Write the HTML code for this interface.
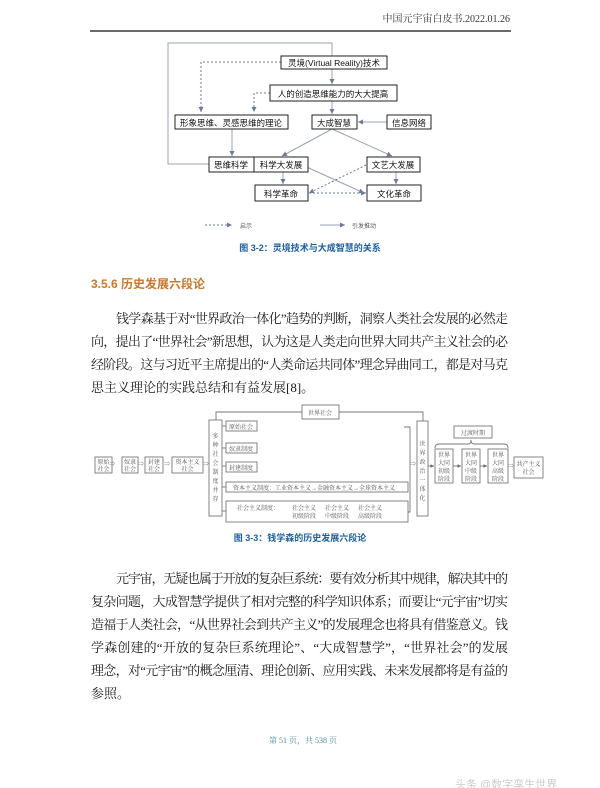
<!DOCTYPE html>
<html><head><meta charset="utf-8"><style>
html,body{margin:0;padding:0;background:#fff;width:600px;height:788px;overflow:hidden}
svg{display:block}
.s{font-family:"Liberation Sans","Noto Sans CJK SC",sans-serif}
.r{font-family:"Liberation Serif","Noto Serif CJK SC",serif}
</style></head><body>
<svg width="600" height="788" viewBox="0 0 600 788" xmlns="http://www.w3.org/2000/svg">
<defs>
<marker id="a" markerWidth="6" markerHeight="6" refX="5" refY="3" orient="auto"><path d="M0,0.5 L5,3 L0,5.5z" fill="#6a7a9a"/></marker>
<marker id="g" markerWidth="5" markerHeight="5" refX="4" refY="2.5" orient="auto"><path d="M0,0.5 L4,2.5 L0,4.5z" fill="#666"/></marker>
</defs>
<!-- header -->
<text x="510" y="22" text-anchor="end" class="r" font-size="10" fill="#333">中国元宇宙白皮书.2022.01.26</text>
<line x1="90" y1="31" x2="511" y2="31" stroke="#111" stroke-width="1.2"/>

<!-- diagram 1 -->
<g fill="none" stroke="#9aa3b5" stroke-width="1">
<polyline points="332,56 332,43 168,43 168,164 209,164"/>
<line x1="332" y1="69" x2="332" y2="84" marker-end="url(#a)"/>
<line x1="332" y1="101" x2="332" y2="114" marker-end="url(#a)"/>
<line x1="387" y1="122" x2="358" y2="122" marker-end="url(#a)"/>
<line x1="232" y1="129" x2="232" y2="156" marker-end="url(#a)"/>
<line x1="332" y1="129" x2="282" y2="156" marker-end="url(#a)"/>
<line x1="332" y1="129" x2="392" y2="156" marker-end="url(#a)"/>
<line x1="283" y1="172" x2="283" y2="184" marker-end="url(#a)"/>
<line x1="396" y1="172" x2="396" y2="184" marker-end="url(#a)"/>
<line x1="300" y1="164" x2="364" y2="193" marker-end="url(#a)"/>
<line x1="320" y1="225" x2="345" y2="225" marker-end="url(#a)"/>
</g>
<g fill="none" stroke="#6a7a9a" stroke-width="1" stroke-dasharray="2,2">
<polyline points="281,62 201,62 201,112" marker-end="url(#a)"/>
<polyline points="270,93 254,93 254,112" marker-end="url(#a)"/>
<line x1="366" y1="165" x2="309" y2="193" marker-end="url(#a)"/>
<line x1="309" y1="193" x2="366" y2="193" marker-end="url(#a)"/>
<line x1="205" y1="225" x2="232" y2="225" marker-end="url(#a)"/>
</g>
<g fill="#fff" stroke="#222" stroke-width="1">
<rect x="281" y="56" width="106" height="13"/>
<rect x="270" y="85" width="127" height="16"/>
<rect x="175" y="115" width="113" height="14"/>
<rect x="312" y="115" width="45" height="14"/>
<rect x="387" y="115" width="44" height="14"/>
<rect x="209" y="157" width="45" height="15"/>
<rect x="254" y="157" width="54" height="15"/>
<rect x="367" y="157" width="53" height="15"/>
<rect x="255" y="185" width="53" height="16"/>
<rect x="367" y="185" width="54" height="16"/>
</g>
<g class="s" font-size="8.5" fill="#111" text-anchor="middle">
<text x="334" y="66">灵境(Virtual Reality)技术</text>
<text x="333" y="97">人的创造思维能力的大大提高</text>
<text x="231" y="126">形象思维、灵感思维的理论</text>
<text x="334" y="126">大成智慧</text>
<text x="409" y="126">信息网络</text>
<text x="231" y="168">思维科学</text>
<text x="281" y="168">科学大发展</text>
<text x="393" y="168">文艺大发展</text>
<text x="281" y="197">科学革命</text>
<text x="394" y="197">文化革命</text>
</g>
<text x="240" y="228" class="s" font-size="6" fill="#555">启示</text>
<text x="352" y="228" class="s" font-size="6" fill="#555">引发推动</text>
<text x="310" y="251" class="s" font-size="9" font-weight="bold" fill="#1d5fa0" text-anchor="middle">图 3-2：灵境技术与大成智慧的关系</text>

<!-- heading -->
<text x="91" y="288" class="s" font-size="12" font-weight="bold" fill="#c9782a">3.5.6 历史发展六段论</text>

<!-- paragraph 1 -->
<g class="r" font-size="13" fill="#1a1a1a">
<text x="116" y="323" textLength="392" lengthAdjust="spacing">钱学森基于对“世界政治一体化”趋势的判断，洞察人类社会发展的必然走</text>
<text x="91" y="346" textLength="417" lengthAdjust="spacing">向，提出了“世界社会”新思想，认为这是人类走向世界大同共产主义社会的必</text>
<text x="91" y="369" textLength="417" lengthAdjust="spacing">经阶段。这与习近平主席提出的“人类命运共同体”理念异曲同工，都是对马克</text>
<text x="91" y="392">思主义理论的实践总结和有益发展[8]。</text>
</g>

<!-- diagram 2 -->
<g fill="none" stroke="#777" stroke-width="0.9">
<polyline points="216,420 216,412 423,412 423,421"/>
<polyline points="404,427 410,427 410,512 404,512"/>
<path d="M435,448 q0,-4 4,-4 h29 q3,0 3,-4 q0,4 3,4 h30 q4,0 4,4"/>
<line x1="222" y1="426" x2="226" y2="426"/><line x1="222" y1="448" x2="226" y2="448"/>
<line x1="222" y1="466" x2="226" y2="466"/><line x1="222" y1="487" x2="226" y2="487"/>
<line x1="222" y1="511" x2="226" y2="511"/>
<line x1="428" y1="466" x2="434" y2="466" marker-end="url(#g)"/>
<line x1="453" y1="466" x2="461" y2="466" marker-end="url(#g)"/>
<line x1="480" y1="466" x2="487" y2="466" marker-end="url(#g)"/>
</g>
<g fill="#fff" stroke="#777" stroke-width="0.9">
<rect x="302" y="405" width="37" height="14"/>
<rect x="209" y="420" width="13" height="96"/>
<rect x="226" y="421" width="31" height="10"/>
<rect x="226" y="443" width="31" height="10"/>
<rect x="226" y="462" width="31" height="10"/>
<rect x="226" y="482" width="182" height="10"/>
<rect x="226" y="501" width="182" height="21"/>
<rect x="417" y="421" width="11" height="95"/>
<rect x="95" y="457" width="17" height="16"/>
<rect x="122" y="457" width="16" height="16"/>
<rect x="145" y="457" width="18" height="16"/>
<rect x="172" y="457" width="31" height="16"/>
<rect x="454" y="426" width="38" height="12"/>
<rect x="435" y="449" width="18" height="34"/>
<rect x="462" y="449" width="18" height="34"/>
<rect x="488" y="449" width="20" height="34"/>
<rect x="514" y="457" width="29" height="21"/>
</g>
<g class="r" font-size="6" fill="#555" text-anchor="middle">
<text x="112" y="466">⇒</text><text x="141" y="466">⇒</text><text x="167" y="466">⇒</text><text x="206" y="466">⇒</text>
<text x="413" y="466">⇒</text><text x="511" y="468">⇒</text>
<text x="320" y="415">世界社会</text>
<text x="241" y="429">原始社会</text>
<text x="241" y="451">奴隶制度</text>
<text x="241" y="470">封建制度</text>
<text x="314" y="490">资本主义制度：工业资本主义→金融资本主义→全球资本主义</text>
<text x="258" y="510">社会主义制度：</text>
<text x="304" y="510">社会主义</text><text x="304" y="518">初级阶段</text>
<text x="337" y="510">社会主义</text><text x="337" y="518">中级阶段</text>
<text x="370" y="510">社会主义</text><text x="370" y="518">高级阶段</text>
<text x="103.5" y="464">原始</text><text x="103.5" y="471">社会</text>
<text x="130" y="464">奴隶</text><text x="130" y="471">社会</text>
<text x="154" y="464">封建</text><text x="154" y="471">社会</text>
<text x="187.5" y="464">资本主义</text><text x="187.5" y="471">社会</text>
<text x="473" y="435">过渡时期</text>
<text x="528.5" y="466">共产主义</text><text x="528.5" y="474">社会</text>
<text x="444" y="457">世界</text><text x="444" y="465">大同</text><text x="444" y="473">初级</text><text x="444" y="481">阶段</text>
<text x="471" y="457">世界</text><text x="471" y="465">大同</text><text x="471" y="473">中级</text><text x="471" y="481">阶段</text>
<text x="498" y="457">世界</text><text x="498" y="465">大同</text><text x="498" y="473">高级</text><text x="498" y="481">阶段</text>
<text x="215.5" y="438">多</text><text x="215.5" y="447">种</text><text x="215.5" y="456">社</text><text x="215.5" y="465">会</text><text x="215.5" y="474">制</text><text x="215.5" y="483">度</text><text x="215.5" y="492">并</text><text x="215.5" y="501">存</text>
<text x="422.5" y="446">世</text><text x="422.5" y="455">界</text><text x="422.5" y="464">政</text><text x="422.5" y="473">治</text><text x="422.5" y="482">一</text><text x="422.5" y="491">体</text><text x="422.5" y="500">化</text>
</g>
<text x="300" y="541" class="s" font-size="9" font-weight="bold" fill="#1d5fa0" text-anchor="middle">图 3-3：钱学森的历史发展六段论</text>

<!-- paragraph 2 -->
<g class="r" font-size="13" fill="#1a1a1a">
<text x="116" y="583" textLength="392" lengthAdjust="spacing">元宇宙，无疑也属于开放的复杂巨系统：要有效分析其中规律，解决其中的</text>
<text x="91" y="606" textLength="417" lengthAdjust="spacing">复杂问题，大成智慧学提供了相对完整的科学知识体系；而要让“元宇宙”切实</text>
<text x="91" y="629" textLength="417" lengthAdjust="spacing">造福于人类社会，“从世界社会到共产主义”的发展理念也将具有借鉴意义。钱</text>
<text x="91" y="652" textLength="417" lengthAdjust="spacing">学森创建的“开放的复杂巨系统理论”、“大成智慧学”，“世界社会”的发展</text>
<text x="91" y="675" textLength="417" lengthAdjust="spacing">理念，对“元宇宙”的概念厘清、理论创新、应用实践、未来发展都将是有益的</text>
<text x="91" y="698">参照。</text>
</g>
<text x="303" y="743" class="r" font-size="8" fill="#4a8a9a" text-anchor="middle">第 51 页，共 538 页</text>
<text x="455" y="788" class="s" font-size="11" fill="#ccc">头条 @数字孪生世界</text>
</svg>
</body></html>
